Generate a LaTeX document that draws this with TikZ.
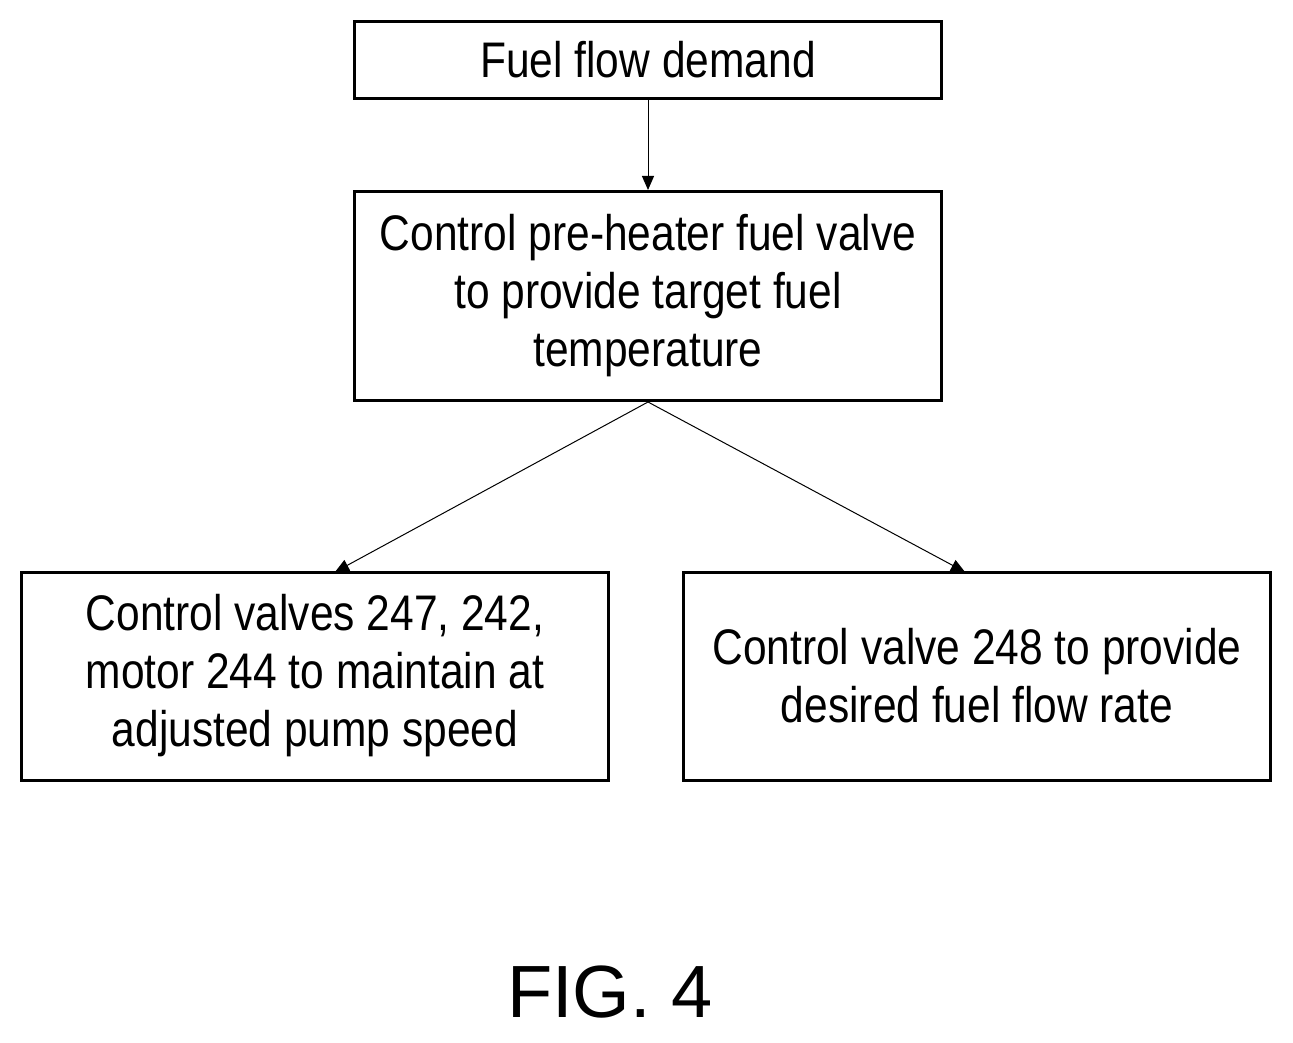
\documentclass[tikz,border=0pt]{standalone}
\usepackage{fontspec}
\setmainfont{Liberation Sans}
\usetikzlibrary{arrows.meta, positioning}

\begin{document}
\begin{tikzpicture}[x=0.5pt, y=-0.5pt,
    box/.style={rectangle, draw, line width=1.5pt, inner sep=0pt, align=center,
      font=\fontsize{25}{29}\selectfont},
    link/.style={-{Triangle[length=7pt, width=6pt]}, line width=0.5pt}]

    \useasboundingbox (0,0) rectangle (1293,1042);

    \node[box, minimum width=293.5pt, minimum height=38.5pt] (demand) at (648,60) {\scalebox{0.85}[1]{Fuel flow demand}};
    \node[box, minimum width=293.5pt, minimum height=104.5pt] (heater) at (648,296) {\scalebox{0.85}[1]{Control pre-heater fuel valve}\\\scalebox{0.85}[1]{to provide target fuel}\\\scalebox{0.85}[1]{temperature}};
    \node[box, minimum width=293.5pt, minimum height=104pt] (pump) at (315,676) {\scalebox{0.85}[1]{Control valves 247, 242,}\\\scalebox{0.85}[1]{motor 244 to maintain at}\\\scalebox{0.85}[1]{adjusted pump speed}};
    \node[box, minimum width=293.5pt, minimum height=104pt] (flow) at (977,676) {\scalebox{0.85}[1]{Control valve 248 to provide}\\\scalebox{0.85}[1]{desired fuel flow rate}};

    \coordinate (pumpin) at (335,572);
    \coordinate (flowin) at (965,572);

    \draw[link] (demand) -- (heater);
    \draw[link] (heater.south) -- (pumpin);
    \draw[link] (heater.south) -- (flowin);

    \node[font=\fontsize{37}{44}\selectfont] (fig) at (610,992) {FIG. 4};

\end{tikzpicture}
\end{document}
